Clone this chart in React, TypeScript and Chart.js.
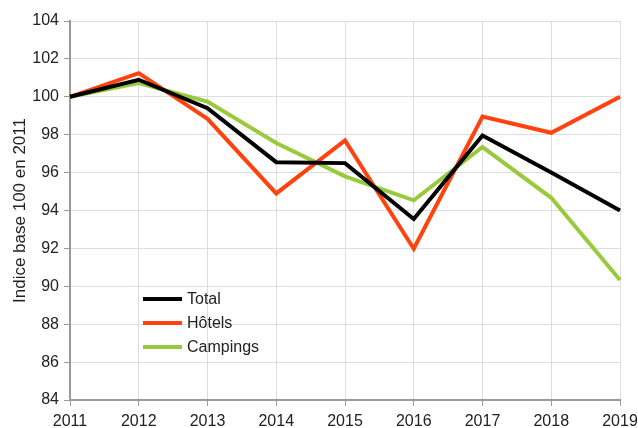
import React, { useEffect, useRef } from "react";
import { Chart, registerables } from "chart.js";

Chart.register(...registerables);

const years = ["2011", "2012", "2013", "2014", "2015", "2016", "2017", "2018", "2019"];
const totalValues = [100, 100.9, 99.4, 96.55, 96.5, 93.55, 97.96, 96.0, 94.0];
const hotelsValues = [100, 101.25, 98.84, 94.9, 97.7, 91.98, 98.96, 98.1, 100.0];
const campingsValues = [100, 100.72, 99.75, 97.56, 95.8, 94.54, 97.35, 94.67, 90.33];
const seriesLabels = ["Total", "Hôtels", "Campings"];
const seriesColors = ["#000000", "#ff420e", "#99c93c"];
const yTitle = "Indice base 100 en 2011";

const FONT = "'Liberation Sans', Arial, sans-serif";

const innerLegend = {
  id: "innerLegend",
  afterDraw(chart: any) {
    const { ctx, chartArea } = chart;
    ctx.save();
    ctx.font = `16px ${FONT}`;
    ctx.textBaseline = "middle";
    ctx.textAlign = "left";
    chart.data.datasets.forEach((ds: any, i: number) => {
      const y = chartArea.bottom - 101 + i * 24;
      const x0 = chartArea.left + 73;
      ctx.strokeStyle = ds.borderColor;
      ctx.lineWidth = 4;
      ctx.beginPath();
      ctx.moveTo(x0, y);
      ctx.lineTo(x0 + 39, y);
      ctx.stroke();
      ctx.fillStyle = "#222";
      ctx.fillText(ds.label, x0 + 44, y + 1);
    });
    ctx.restore();
  },
};

export default function App() {
  const ref = useRef<HTMLCanvasElement>(null);
  useEffect(() => {
    if (!ref.current) return;
    const valuesList = [totalValues, hotelsValues, campingsValues];
    const chart = new Chart(ref.current, {
      type: "line",
      data: {
        labels: years,
        datasets: valuesList.map((v, i) => ({
          label: seriesLabels[i],
          data: v,
          borderColor: seriesColors[i],
          backgroundColor: seriesColors[i],
          borderWidth: 4,
          pointRadius: 0,
          tension: 0,
          fill: false,
        })),
      },
      options: {
        animation: false,
        responsive: true,
        maintainAspectRatio: false,
        layout: { padding: { top: 21, right: 18, left: 0, bottom: 0 } },
        plugins: {
          legend: { display: false },
          tooltip: { enabled: false },
        },
        scales: {
          x: {
            grid: { color: "#dadde2", tickColor: "#999", tickLength: 6, lineWidth: 1 },
            border: { color: "#999", width: 2 },
            ticks: { color: "#222", font: { family: FONT, size: 16 }, padding: 6, maxRotation: 0, autoSkip: false },
            afterFit(scale: any) {
              scale.height = 28;
              scale.paddingLeft = 0;
              scale.paddingRight = 0;
            },
          },
          y: {
            min: 84,
            max: 104,
            grid: { color: "#dadde2", tickColor: "#999", tickLength: 6, lineWidth: 1 },
            border: { color: "#999", width: 2 },
            ticks: { stepSize: 2, color: "#222", font: { family: FONT, size: 16 }, padding: 5 },
            title: {
              display: true,
              text: yTitle,
              color: "#222",
              font: { family: FONT, size: 17 },
              padding: { top: 10, bottom: 0 },
            },
            afterFit(scale: any) {
              scale.width = 70;
              scale.paddingTop = 0;
              scale.paddingBottom = 0;
            },
          },
        },
      },
      plugins: [innerLegend],
    });
    return () => chart.destroy();
  }, []);
  return (
    <div style={{ position: "absolute", left: 0, top: 0, width: 638, height: 428, background: "#fff" }}>
      <canvas ref={ref} />
    </div>
  );
}
